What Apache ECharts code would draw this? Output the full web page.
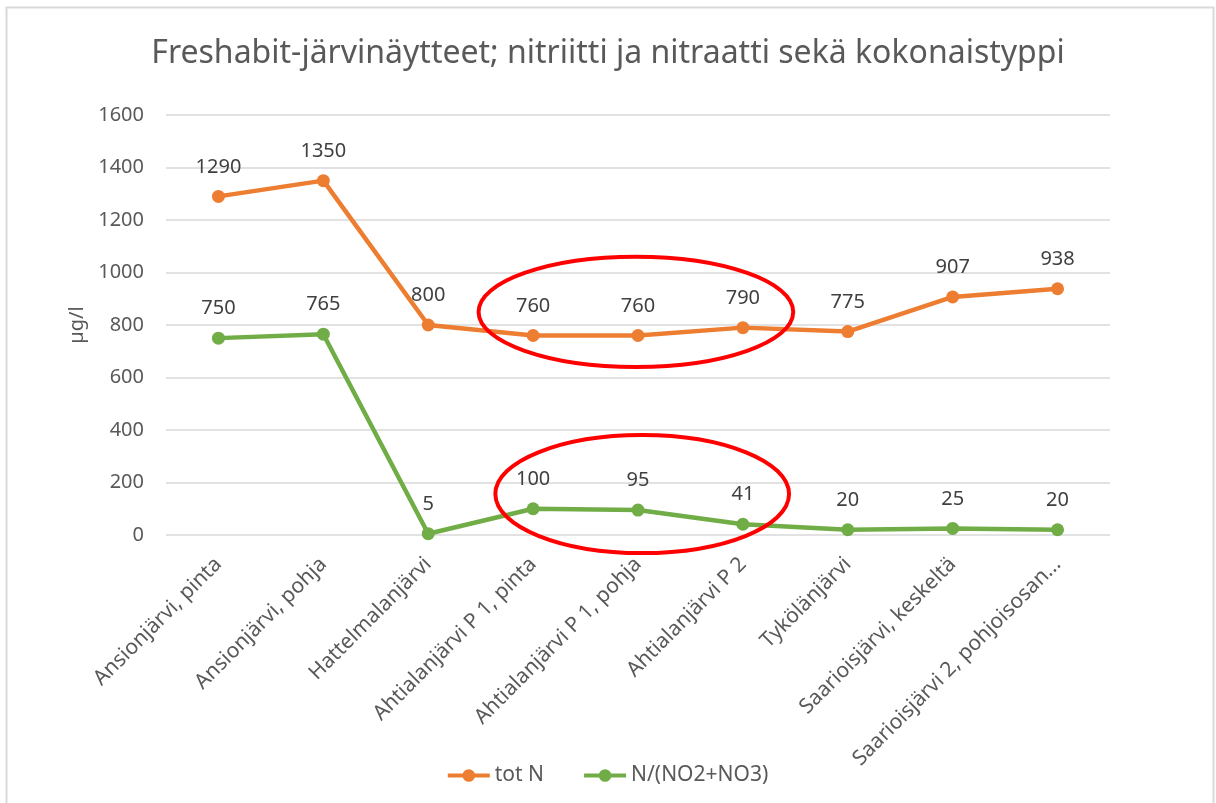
<!DOCTYPE html>
<html>
<head>
<meta charset="utf-8">
<script src="https://cdn.jsdelivr.net/npm/echarts@6/dist/echarts.min.js"></script>
<style>
  html, body { margin: 0; padding: 0; background: #fff; }
  #chart { width: 1216px; height: 803px; }
</style>
</head>
<body>
<div id="chart"></div>
<script>
// näytepaikat
var lakes = [
  'Ansionjärvi, pinta', 'Ansionjärvi, pohja', 'Hattelmalanjärvi',
  'Ahtialanjärvi P 1, pinta', 'Ahtialanjärvi P 1, pohja', 'Ahtialanjärvi P 2',
  'Tykölänjärvi', 'Saarioisjärvi, keskeltä', 'Saarioisjärvi 2, pohjoisosan...'
];
var totN = [1290, 1350, 800, 760, 760, 790, 775, 907, 938];
var no2no3 = [750, 765, 5, 100, 95, 41, 20, 25, 20];
var yTicks = [0, 200, 400, 600, 800, 1000, 1200, 1400, 1600];

var font = 'Noto Sans';
var grey = '#595959';
// legendan ikoni: paksu viiva + pallo
var lineIcon = 'path://M0,4 L40,4 L40,8 L0,8 Z M14,6 A6,6 0 1,1 26,6 A6,6 0 1,1 14,6 Z';

var chart = echarts.init(document.getElementById('chart'));
chart.setOption({
  animation: false,
  color: ['#ED7D31', '#70AD47'],
  textStyle: { fontFamily: font },
  title: {
    text: 'Freshabit-järvinäytteet; nitriitti ja nitraatti sekä kokonaistyppi',
    left: 'center', top: 33,
    textStyle: { fontFamily: font, fontSize: 32, fontWeight: 'normal', color: grey }
  },
  legend: {
    bottom: 12, left: 'center',
    icon: lineIcon,
    itemWidth: 42, itemHeight: 13, itemGap: 40,
    textStyle: { fontFamily: font, fontSize: 21, color: grey },
    data: ['tot N', 'N/(NO2+NO3)']
  },
  grid: { left: 166, right: 106, top: 115, bottom: 268 },
  xAxis: {
    type: 'category',
    data: lakes,
    boundaryGap: true,
    axisLine: { show: false },
    axisTick: { show: false },
    axisLabel: { rotate: 45, interval: 0, fontSize: 21, color: grey, margin: 26 }
  },
  yAxis: {
    type: 'value',
    min: yTicks[0], max: yTicks[yTicks.length - 1], interval: 200,
    name: 'µg/l', nameLocation: 'middle', nameGap: 78, nameRotate: 90,
    nameTextStyle: { fontSize: 20, color: grey },
    axisLine: { show: false },
    axisTick: { show: false },
    axisLabel: { fontSize: 20, color: grey, margin: 22, formatter: function (v) { return String(v); } },
    splitLine: { lineStyle: { color: '#d9d9d9', width: 1.5 } }
  },
  series: [
    {
      name: 'tot N', type: 'line', data: totN,
      symbol: 'circle', symbolSize: 13,
      lineStyle: { width: 4.5 },
      label: { show: true, position: 'top', distance: 13, fontSize: 20, color: '#404040' }
    },
    {
      name: 'N/(NO2+NO3)', type: 'line', data: no2no3,
      symbol: 'circle', symbolSize: 13,
      lineStyle: { width: 4.5 },
      label: { show: true, position: 'top', distance: 13, fontSize: 20, color: '#404040' }
    }
  ]
});

// punaiset korostusellipsit, sijoitettu akselien kautta
function ellipseAround(centerIdx, halfSteps, yLow, yHigh) {
  var p0 = chart.convertToPixel({ gridIndex: 0 }, [0, yLow]);
  var p1 = chart.convertToPixel({ gridIndex: 0 }, [1, yHigh]);
  var step = p1[0] - p0[0];
  return {
    type: 'ellipse',
    shape: {
      cx: p0[0] + centerIdx * step,
      cy: (p0[1] + p1[1]) / 2,
      rx: halfSteps * step,
      ry: Math.abs(p0[1] - p1[1]) / 2
    },
    style: { fill: null, stroke: '#FF0000', lineWidth: 4 },
    z: 100
  };
}
chart.setOption({
  graphic: [
    { type: 'rect', shape: { x: 6.5, y: 7.5, width: 1207, height: 820 },
      style: { fill: null, stroke: '#d9d9d9', lineWidth: 2 }, silent: true },
    ellipseAround(3.98, 1.5, 640, 1060),
    ellipseAround(4.04, 1.4, -69, 381)
  ]
});
</script>
</body>
</html>
